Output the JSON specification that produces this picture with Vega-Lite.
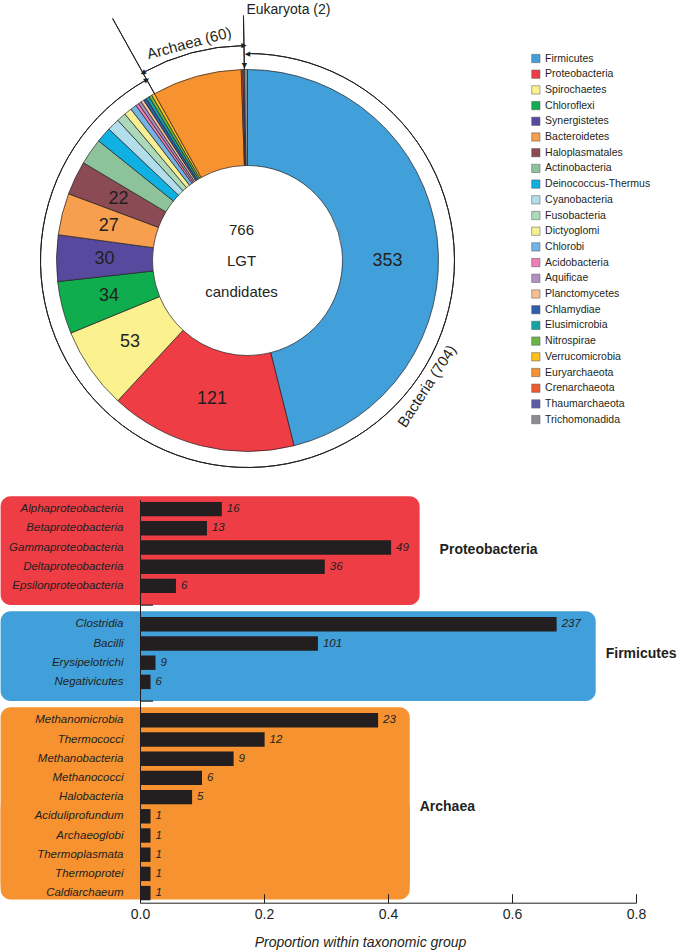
{
  "$schema": "https://vega.github.io/schema/vega-lite/v6.json",
  "background": "white",
  "autosize": {"type": "pad"},
  "padding": {"left": 0, "top": 2.5, "right": 0, "bottom": 3},
  "bounds": "flush",
  "spacing": 19,
  "config": {"view": {"stroke": null}, "font": "Liberation Sans", "text": {"color": "#231f20"}},
  "datasets": {
    "phyla": [
      {"phylum": "Firmicutes", "count": 353},
      {"phylum": "Proteobacteria", "count": 121},
      {"phylum": "Spirochaetes", "count": 53},
      {"phylum": "Chloroflexi", "count": 34},
      {"phylum": "Synergistetes", "count": 30},
      {"phylum": "Bacteroidetes", "count": 27},
      {"phylum": "Haloplasmatales", "count": 22},
      {"phylum": "Actinobacteria", "count": 17},
      {"phylum": "Deinococcus-Thermus", "count": 10},
      {"phylum": "Cyanobacteria", "count": 8},
      {"phylum": "Fusobacteria", "count": 6},
      {"phylum": "Dictyoglomi", "count": 5},
      {"phylum": "Chlorobi", "count": 4},
      {"phylum": "Acidobacteria", "count": 2},
      {"phylum": "Aquificae", "count": 2},
      {"phylum": "Planctomycetes", "count": 2},
      {"phylum": "Chlamydiae", "count": 2},
      {"phylum": "Elusimicrobia", "count": 2},
      {"phylum": "Nitrospirae", "count": 2},
      {"phylum": "Verrucomicrobia", "count": 2},
      {"phylum": "Euryarchaeota", "count": 58},
      {"phylum": "Crenarchaeota", "count": 1},
      {"phylum": "Thaumarchaeota", "count": 1},
      {"phylum": "Trichomonadida", "count": 2}
    ],
    "domains": [
      {"domain": "Bacteria", "start": 0, "end": 704, "label": "Bacteria (704)"},
      {"domain": "Archaea", "start": 704, "end": 764, "label": "Archaea (60)"},
      {"domain": "Eukaryota", "start": 764, "end": 766, "label": "Eukaryota (2)"}
    ],
    "classes": [
      {"name": "Alphaproteobacteria", "group": "Proteobacteria", "prop": 0.132, "count": 16},
      {"name": "Betaproteobacteria", "group": "Proteobacteria", "prop": 0.108, "count": 13},
      {"name": "Gammaproteobacteria", "group": "Proteobacteria", "prop": 0.405, "count": 49},
      {"name": "Deltaproteobacteria", "group": "Proteobacteria", "prop": 0.298, "count": 36},
      {"name": "Epsilonproteobacteria", "group": "Proteobacteria", "prop": 0.058, "count": 6},
      {"name": "Clostridia", "group": "Firmicutes", "prop": 0.672, "count": 237},
      {"name": "Bacilli", "group": "Firmicutes", "prop": 0.287, "count": 101},
      {"name": "Erysipelotrichi", "group": "Firmicutes", "prop": 0.025, "count": 9},
      {"name": "Negativicutes", "group": "Firmicutes", "prop": 0.017, "count": 6},
      {"name": "Methanomicrobia", "group": "Archaea", "prop": 0.384, "count": 23},
      {"name": "Thermococci", "group": "Archaea", "prop": 0.201, "count": 12},
      {"name": "Methanobacteria", "group": "Archaea", "prop": 0.151, "count": 9},
      {"name": "Methanococci", "group": "Archaea", "prop": 0.1, "count": 6},
      {"name": "Halobacteria", "group": "Archaea", "prop": 0.084, "count": 5},
      {"name": "Aciduliprofundum", "group": "Archaea", "prop": 0.017, "count": 1},
      {"name": "Archaeoglobi", "group": "Archaea", "prop": 0.017, "count": 1},
      {"name": "Thermoplasmata", "group": "Archaea", "prop": 0.017, "count": 1},
      {"name": "Thermoprotei", "group": "Archaea", "prop": 0.017, "count": 1},
      {"name": "Caldiarchaeum", "group": "Archaea", "prop": 0.017, "count": 1}
    ],
    "boxes": [
      {"group": "Proteobacteria", "top": "Alphaproteobacteria", "bottom": "gap1", "mid": "Gammaproteobacteria", "left": -0.2248, "right": 0.451},
      {"group": "Firmicutes", "top": "Clostridia", "bottom": "gap2", "mid": "Bacilli", "left": -0.2248, "right": 0.735},
      {"group": "Archaea", "top": "Methanomicrobia", "bottom": "Caldiarchaeum", "mid": "Halobacteria", "left": -0.2248, "right": 0.435}
    ],
    "gaps": [
      {"row": "gap1", "from": 0, "to": 0.021},
      {"row": "gap2", "from": 0, "to": 0.021}
    ]
  },
  "vconcat": [
    {
      "width": 215,
      "height": 440,
      "layer": [
        {
          "data": {"name": "phyla"},
          "transform": [{"window": [{"op": "row_number", "as": "rank"}]}],
          "mark": {"type": "arc", "innerRadius": 95, "outerRadius": 191, "stroke": "#231f20", "strokeWidth": 0.7},
          "encoding": {
            "theta": {"field": "count", "type": "quantitative", "stack": true},
            "order": {"field": "rank", "type": "quantitative"},
            "color": {
              "field": "phylum",
              "type": "nominal",
              "scale": {
                "domain": ["Firmicutes", "Proteobacteria", "Spirochaetes", "Chloroflexi", "Synergistetes", "Bacteroidetes", "Haloplasmatales", "Actinobacteria", "Deinococcus-Thermus", "Cyanobacteria", "Fusobacteria", "Dictyoglomi", "Chlorobi", "Acidobacteria", "Aquificae", "Planctomycetes", "Chlamydiae", "Elusimicrobia", "Nitrospirae", "Verrucomicrobia", "Euryarchaeota", "Crenarchaeota", "Thaumarchaeota", "Trichomonadida"],
                "range": ["#419FD9", "#EE3D45", "#FBF28F", "#0FAD4E", "#574A9E", "#F79E4F", "#8A4B55", "#8DC39B", "#0FB0E2", "#B2DEEC", "#ACD9BA", "#F6EF93", "#73B4E5", "#EC7FB4", "#B18FC3", "#F8BE93", "#2F5FAA", "#14A3A6", "#6AB546", "#FDBF1A", "#F6922F", "#EE5B2F", "#5A5DA6", "#8C8D90"]
              },
              "legend": {
                "title": null,
                "orient": "none",
                "direction": "vertical",
                "legendX": 390.6,
                "legendY": 12.75,
                "padding": 0,
                "symbolType": "square",
                "symbolSize": 69,
                "symbolStrokeColor": "#555555",
                "symbolStrokeWidth": 0.5,
                "labelFont": "Liberation Sans",
                "labelFontSize": 10.5,
                "labelColor": "#231f20",
                "labelOffset": 4,
                "rowPadding": 4.7,
                "labelLimit": 200
              }
            }
          }
        },
        {
          "data": {"name": "phyla"},
          "transform": [{"window": [{"op": "row_number", "as": "rank"}]}],
          "mark": {"type": "text", "radius": 143, "fontSize": 18, "align": "center", "baseline": "middle"},
          "encoding": {
            "theta": {"field": "count", "type": "quantitative", "stack": true},
            "order": {"field": "rank", "type": "quantitative"},
            "detail": {"field": "phylum", "type": "nominal"},
            "text": {"condition": {"test": "datum.rank >= 2 && datum.rank <= 7", "field": "count", "type": "quantitative"}, "value": ""}
          }
        },
        {
          "data": {"values": [{"label": "353", "at": 191.5}]},
          "mark": {"type": "text", "radius": 140, "fontSize": 18, "align": "center", "baseline": "middle"},
          "encoding": {"theta": {"field": "at", "type": "quantitative"}, "text": {"field": "label", "type": "nominal"}}
        },
        {
          "data": {"values": [{"t": "766\nLGT\ncandidates"}]},
          "mark": {"type": "text", "fontSize": 15, "lineHeight": 31, "lineBreak": "\n", "align": "center", "baseline": "middle", "dx": -6, "dy": -31},
          "encoding": {"text": {"field": "t", "type": "nominal"}}
        },
        {
          "data": {"name": "domains"},
          "transform": [{"filter": "datum.domain === 'Bacteria'"}],
          "mark": {"type": "arc", "innerRadius": 207, "outerRadius": 207, "filled": false, "stroke": "#231f20", "strokeWidth": 1},
          "encoding": {"theta": {"field": "start", "type": "quantitative"}, "theta2": {"field": "end"}}
        },
        {
          "data": {"name": "domains"},
          "transform": [{"filter": "datum.domain === 'Archaea'"}],
          "mark": {"type": "arc", "innerRadius": 215, "outerRadius": 215, "filled": false, "stroke": "#231f20", "strokeWidth": 1},
          "encoding": {"theta": {"field": "start", "type": "quantitative"}, "theta2": {"field": "end"}}
        },
        {
          "data": {"name": "domains"},
          "transform": [{"filter": "datum.domain === 'Archaea'"}],
          "mark": {"type": "arc", "innerRadius": 191, "outerRadius": 277, "filled": false, "stroke": "#231f20", "strokeWidth": 1},
          "encoding": {"theta": {"field": "start", "type": "quantitative"}, "theta2": {"field": "start"}}
        },
        {
          "data": {"name": "domains"},
          "transform": [{"filter": "datum.domain === 'Eukaryota'"}],
          "mark": {"type": "arc", "innerRadius": 191, "outerRadius": 245, "filled": false, "stroke": "#231f20", "strokeWidth": 1},
          "encoding": {"theta": {"field": "start", "type": "quantitative"}, "theta2": {"field": "start"}}
        },
        {
          "data": {"name": "domains"},
          "transform": [{"filter": "datum.domain === 'Bacteria'"}, {"fold": ["start", "end"], "as": ["end_kind", "at"]}],
          "mark": {"type": "text", "radius": 207, "fontSize": 7, "align": "center", "baseline": "middle", "font": "DejaVu Sans"},
          "encoding": {
            "theta": {"field": "at", "type": "quantitative"},
            "angle": {"field": "at", "type": "quantitative", "scale": {"domain": [0, 766], "range": [0, 360]}, "legend": null},
            "text": {"condition": {"test": "datum.end_kind === 'start'", "value": "◀"}, "value": "▶"}
          }
        },
        {
          "data": {"name": "domains"},
          "transform": [{"filter": "datum.domain === 'Archaea'"}, {"fold": ["start", "end"], "as": ["end_kind", "at"]}],
          "mark": {"type": "text", "radius": 215, "fontSize": 7, "align": "center", "baseline": "middle", "font": "DejaVu Sans"},
          "encoding": {
            "theta": {"field": "at", "type": "quantitative"},
            "angle": {"field": "at", "type": "quantitative", "scale": {"domain": [0, 766], "range": [0, 360]}, "legend": null},
            "text": {"condition": {"test": "datum.end_kind === 'start'", "value": "◀"}, "value": "▶"}
          }
        },
        {
          "data": {"name": "domains"},
          "transform": [{"filter": "datum.domain === 'Eukaryota'"}],
          "mark": {"type": "text", "radius": 195, "fontSize": 7, "align": "center", "baseline": "middle", "font": "DejaVu Sans"},
          "encoding": {
            "theta": {"field": "start", "type": "quantitative"},
            "angle": {"field": "start", "type": "quantitative", "scale": {"domain": [0, 766], "range": [0, 360]}, "legend": null},
            "text": {"value": "▼"}
          }
        },
        {
          "data": {"name": "domains"},
          "transform": [{"filter": "datum.domain === 'Eukaryota'"}],
          "mark": {"type": "text", "radius": 251, "fontSize": 14, "align": "left", "baseline": "middle", "dx": 3},
          "encoding": {"theta": {"field": "start", "type": "quantitative"}, "text": {"field": "label", "type": "nominal"}}
        },
        {
          "data": {"name": "domains"},
          "transform": [{"filter": "datum.domain === 'Archaea'"}, {"calculate": "(datum.start + datum.end) / 2", "as": "middle"}],
          "mark": {"type": "text", "radius": 225, "fontSize": 15, "align": "center", "baseline": "middle", "angle": 345},
          "encoding": {"theta": {"field": "middle", "type": "quantitative"}, "text": {"field": "label", "type": "nominal"}}
        },
        {
          "data": {"values": [{"label": "Bacteria (704)", "at": 266}]},
          "mark": {"type": "text", "radius": 219, "fontSize": 15, "align": "center", "baseline": "middle", "angle": 303},
          "encoding": {"theta": {"field": "at", "type": "quantitative"}, "text": {"field": "label", "type": "nominal"}}
        }
      ]
    },
    {
      "width": 496,
      "height": 403.2,
      "layer": [
        {
          "data": {"name": "boxes"},
          "mark": {"type": "rect", "cornerRadius": 10},
          "encoding": {
            "y": {"field": "top", "type": "nominal", "bandPosition": -0.4},
            "y2": {"field": "bottom"},
            "x": {"field": "left", "type": "quantitative"},
            "x2": {"field": "right"},
            "fill": {"field": "group", "type": "nominal", "scale": {"domain": ["Proteobacteria", "Firmicutes", "Archaea"], "range": ["#EE3D45", "#419FD9", "#F6922F"]}, "legend": null}
          }
        },
        {
          "data": {"name": "boxes"},
          "transform": [{"filter": "datum.group === 'Archaea'"}],
          "mark": {"type": "rect", "cornerRadius": 10},
          "encoding": {
            "y": {"field": "bottom", "type": "nominal", "bandPosition": 0.945},
            "y2": {"field": "mid"},
            "x": {"field": "left", "type": "quantitative"},
            "x2": {"field": "right"},
            "fill": {"field": "group", "type": "nominal", "legend": null}
          }
        },
        {
          "data": {"name": "gaps"},
          "mark": {"type": "rule", "color": "#231f20", "strokeWidth": 1.2},
          "encoding": {
            "y": {"field": "row", "type": "nominal"},
            "x": {"field": "from", "type": "quantitative"},
            "x2": {"field": "to"}
          }
        },
        {
          "data": {"name": "classes"},
          "mark": {"type": "bar", "color": "#231f20"},
          "encoding": {
            "y": {
              "field": "name",
              "type": "nominal",
              "scale": {
                "type": "band",
                "domain": ["Alphaproteobacteria", "Betaproteobacteria", "Gammaproteobacteria", "Deltaproteobacteria", "Epsilonproteobacteria", "gap1", "Clostridia", "Bacilli", "Erysipelotrichi", "Negativicutes", "gap2", "Methanomicrobia", "Thermococci", "Methanobacteria", "Methanococci", "Halobacteria", "Aciduliprofundum", "Archaeoglobi", "Thermoplasmata", "Thermoprotei", "Caldiarchaeum"],
                "paddingInner": 0.25,
                "paddingOuter": 0.125
              },
              "axis": {
                "title": null,
                "ticks": false,
                "labelPadding": 17,
                "labelFont": "Liberation Sans",
                "labelFontStyle": "italic",
                "labelFontSize": 11.5,
                "labelColor": "#231f20",
                "domainColor": "#231f20",
                "labelExpr": "indexof(datum.value, 'gap') === 0 ? '' : datum.value",
                "zindex": 1
              }
            },
            "x": {
              "field": "prop",
              "type": "quantitative",
              "scale": {"domain": [0, 0.8], "nice": false},
              "axis": {
                "title": "Proportion within taxonomic group",
                "values": [0, 0.2, 0.4, 0.6, 0.8],
                "format": ".1f",
                "grid": false,
                "tickSize": -9,
                "tickColor": "#231f20",
                "labelPadding": 14,
                "labelFontSize": 14,
                "labelFlush": false,
                "labelColor": "#231f20",
                "domainColor": "#231f20",
                "titleFontStyle": "italic",
                "titleFontWeight": "normal",
                "titleFontSize": 14,
                "titleColor": "#231f20",
                "titlePadding": 14,
                "titleX": 220,
                "zindex": 1
              }
            }
          }
        },
        {
          "data": {"name": "classes"},
          "mark": {"type": "text", "align": "left", "baseline": "middle", "dx": 5, "fontStyle": "italic", "fontSize": 11.5, "font": "Liberation Sans"},
          "encoding": {
            "y": {"field": "name", "type": "nominal"},
            "x": {"field": "prop", "type": "quantitative"},
            "text": {"field": "count", "type": "quantitative"}
          }
        },
        {
          "data": {"name": "boxes"},
          "transform": [{"filter": "datum.group === 'Proteobacteria'"}],
          "mark": {"type": "text", "align": "left", "baseline": "middle", "dx": 20, "fontWeight": "bold", "fontSize": 14},
          "encoding": {
            "y": {"field": "mid", "type": "nominal", "bandPosition": 0.7},
            "x": {"field": "right", "type": "quantitative"},
            "text": {"field": "group", "type": "nominal"}
          }
        },
        {
          "data": {"name": "boxes"},
          "transform": [{"filter": "datum.group !== 'Proteobacteria'"}],
          "mark": {"type": "text", "align": "left", "baseline": "middle", "dx": 10, "fontWeight": "bold", "fontSize": 14},
          "encoding": {
            "y": {"field": "mid", "type": "nominal", "bandPosition": 1.2},
            "x": {"field": "right", "type": "quantitative"},
            "text": {"field": "group", "type": "nominal"}
          }
        }
      ]
    }
  ]
}
